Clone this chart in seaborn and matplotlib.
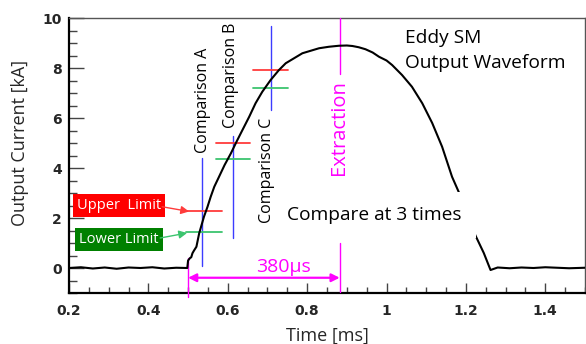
import matplotlib
matplotlib.use("Agg")
import matplotlib.pyplot as plt
import seaborn as sns
import pandas as pd
from matplotlib.ticker import MultipleLocator

# ---------------- data ----------------
wave_t = [0.200, 0.230, 0.260, 0.290, 0.320, 0.350, 0.380, 0.410, 0.440, 0.470, 0.498,
          0.500, 0.505, 0.508, 0.511, 0.515, 0.521, 0.528, 0.540, 0.549, 0.557, 0.566,
          0.578, 0.592, 0.608, 0.622, 0.637, 0.654, 0.670, 0.687, 0.708, 0.729, 0.746,
          0.767, 0.788, 0.809, 0.830, 0.855, 0.880, 0.900, 0.914, 0.930, 0.947, 0.965,
          0.981, 1.000, 1.014, 1.039, 1.064, 1.090, 1.115, 1.140, 1.165, 1.183, 1.200,
          1.224, 1.245, 1.262, 1.280, 1.310, 1.340, 1.370, 1.400, 1.430, 1.460, 1.500]
wave_v = [0.00, 0.03, -0.02, 0.02, -0.03, 0.02, 0.00, 0.03, -0.02, 0.01, 0.00,
          0.30, 0.40, 0.43, 0.59, 0.70, 0.85, 1.39, 2.05, 2.45, 2.85, 3.25,
          3.65, 4.12, 4.59, 5.05, 5.52, 6.05, 6.59, 7.05, 7.52, 7.92, 8.19,
          8.39, 8.59, 8.69, 8.79, 8.85, 8.89, 8.90, 8.88, 8.83, 8.75, 8.62,
          8.45, 8.30, 8.12, 7.72, 7.25, 6.59, 5.80, 4.85, 3.65, 3.00, 2.30,
          1.30, 0.60, -0.08, 0.02, -0.01, 0.02, 0.00, 0.03, 0.01, -0.01, 0.01]

comp_names = ["Comparison A", "Comparison B", "Comparison C"]
comp_t = [0.536, 0.612, 0.710]            # blue comparison times
comp_line_lo = [0.08, 1.19, 6.32]         # blue line extent
comp_line_hi = [4.40, 5.28, 9.68]
upper_lim = [2.28, 5.01, 7.92]            # red limits
lower_lim = [1.45, 4.37, 7.19]            # green limits
lim_t0 = [0.495, 0.570, 0.664]
lim_t1 = [0.586, 0.656, 0.752]
comp_label_t = [0.537, 0.608, 0.698]
comp_label_v = [6.72, 7.72, 3.92]

t_start = 0.500
t_extract = 0.882
span_label = "380μs"

xlim = (0.2, 1.5)
ylim = (-1, 10)
xticks = [0.2, 0.4, 0.6, 0.8, 1.0, 1.2, 1.4]
xtick_labels = ["0.2", "0.4", "0.6", "0.8", "1", "1.2", "1.4"]
yticks = [0, 2, 4, 6, 8, 10]

# ---------------- style ----------------
sns.set_theme(style="ticks")
plt.rcParams["font.family"] = ["Open Sans", "DejaVu Sans"]

fig = plt.figure(figsize=(5.86, 3.44), dpi=100)
ax = fig.add_axes([69 / 586, (344 - 293) / 344, (585 - 69) / 586, (293 - 18) / 344])

df = pd.DataFrame({"t": wave_t, "v": wave_v})
sns.lineplot(data=df, x="t", y="v", ax=ax, color="black", lw=1.5,
             estimator=None, sort=False, zorder=5)

RED = "#ff3b3b"
GREEN = "#3cc46e"
BLUE = "#3c3cff"
MAG = "#ff00ff"

for i in range(3):
    ax.plot([comp_t[i], comp_t[i]], [comp_line_lo[i], comp_line_hi[i]], color=BLUE, lw=1.0, zorder=3)
    ax.plot([lim_t0[i], lim_t1[i]], [upper_lim[i], upper_lim[i]], color=RED, lw=1.3, zorder=4)
    ax.plot([lim_t0[i], lim_t1[i]], [lower_lim[i], lower_lim[i]], color=GREEN, lw=1.3, zorder=4)
    ax.text(comp_label_t[i], comp_label_v[i], comp_names[i], rotation=90,
            ha="center", va="center", fontsize=11.5, color="black", zorder=7)

# Extraction markers
ax.plot([t_extract, t_extract], [7.76, 10.0], color=MAG, lw=1.0, zorder=3)
ax.plot([t_extract, t_extract], [-0.96, 0.99], color=MAG, lw=1.0, zorder=3, clip_on=False)
ax.plot([t_start, t_start], [-1.16, 0.40], color=MAG, lw=1.0, zorder=3, clip_on=False)
ax.text(0.8813, 5.6, "Extraction", rotation=90, ha="center", va="center",
        fontsize=14.5, color=MAG)
ax.annotate("", xy=(t_extract, -0.39), xytext=(t_start, -0.39),
            arrowprops=dict(arrowstyle="<|-|>", color=MAG, lw=1.6,
                            mutation_scale=12, shrinkA=0, shrinkB=0))
ax.text(0.7404, 0.05, span_label, ha="center", va="center", fontsize=14, color=MAG)

# Limit boxes with arrows
ax.text(0.3266, 2.49, "Upper  Limit", ha="center", va="center", fontsize=10.5,
        color="white", bbox=dict(boxstyle="square,pad=0.28", fc="#ff0000", ec="none"))
ax.text(0.3253, 1.14, "Lower Limit", ha="center", va="center", fontsize=10.5,
        color="white", bbox=dict(boxstyle="square,pad=0.28", fc="#008000", ec="none"))
ax.annotate("", xy=(0.5026, 2.26), xytext=(0.4347, 2.45),
            arrowprops=dict(arrowstyle="-|>", color=RED, lw=1.0,
                            mutation_scale=12, shrinkA=0, shrinkB=0))
ax.annotate("", xy=(0.4976, 1.40), xytext=(0.4297, 1.20),
            arrowprops=dict(arrowstyle="-|>", color=GREEN, lw=1.0,
                            mutation_scale=12, shrinkA=0, shrinkB=0))

# Text blocks
ax.text(1.046, 9.2, "Eddy SM", ha="left", va="center", fontsize=13.8, color="black")
ax.text(1.046, 8.2, "Output Waveform", ha="left", va="center", fontsize=13.8, color="black")
ax.text(0.749, 2.12, "Compare at 3 times", ha="left", va="center", fontsize=13.8,
        color="black", zorder=6,
        bbox=dict(boxstyle="square,pad=0.75", fc="white", ec="none"))

# ---------------- axes ----------------
ax.set_xlim(*xlim)
ax.set_ylim(*ylim)
ax.set_xticks(xticks)
ax.set_xticklabels(xtick_labels)
ax.set_yticks(yticks)
ax.xaxis.set_minor_locator(MultipleLocator(0.05))
ax.yaxis.set_minor_locator(MultipleLocator(0.5))
for lab in ax.get_xticklabels() + ax.get_yticklabels():
    lab.set_fontfamily("DejaVu Sans")
    lab.set_fontweight("bold")
    lab.set_fontsize(10)
ax.tick_params(axis="y", which="major", direction="in", length=11, width=1.0, color="#444444", pad=5)
ax.tick_params(axis="y", which="minor", direction="in", length=6, width=1.0, color="#444444")
ax.tick_params(axis="x", which="major", direction="in", length=7, width=1.0, color="#444444", pad=8)
ax.tick_params(axis="x", which="minor", direction="in", length=4, width=1.0, color="#444444")

for side in ["left", "bottom"]:
    ax.spines[side].set_linewidth(1.6)
    ax.spines[side].set_color("black")
for side in ["top", "right"]:
    ax.spines[side].set_visible(True)
    ax.spines[side].set_linewidth(1.0)
    ax.spines[side].set_color("#555555")

ax.set_xlabel("Time [ms]", fontsize=13, labelpad=6)
ax.set_ylabel("Output Current [kA]", fontsize=13)
ax.yaxis.set_label_coords(-0.078, 0.544)

fig.savefig("out.png", dpi=100)
